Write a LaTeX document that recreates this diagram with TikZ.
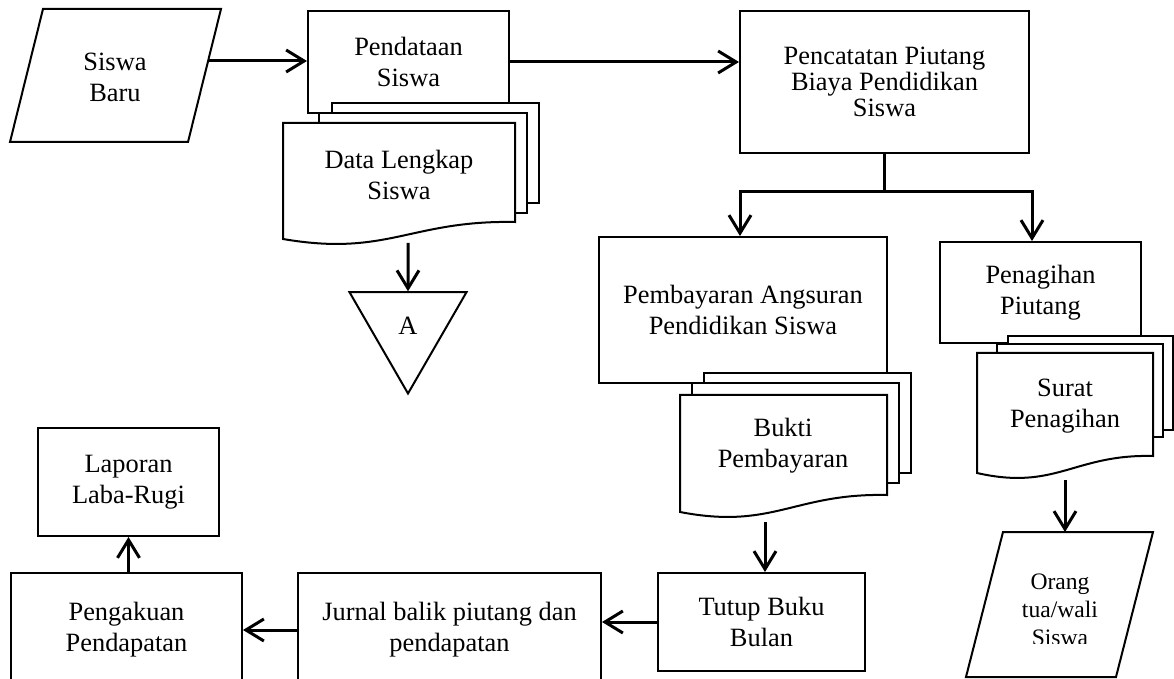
\documentclass[tikz,border=0pt]{standalone}
\usepackage{fontspec}
\setmainfont{Liberation Serif}
\usetikzlibrary{arrows.meta,shapes.geometric}

\tikzset{
	box/.style={draw,line width=1pt,fill=white,align=center,inner sep=0pt,font=\fontsize{13.2}{15.5}\selectfont},
	txt/.style={align=center,inner sep=0pt,font=\fontsize{13.2}{15.5}\selectfont},
	doc/.style={draw,line width=1pt,fill=white},
	arr/.style={line width=1.5pt,-{Straight Barb[length=9pt,width=11pt]}},
	lin/.style={line width=1.5pt}
}

% document with a wavy bottom: left, top, right, bottom at the right side
\newcommand{\wavedoc}[4]{%
	\draw[doc] (#1,#2) -- (#3,#2) -- (#3,#4)
	.. controls ({#1+0.55*(#3-#1)},{#4-2}) and ({#1+0.45*(#3-#1)},{#4+35}) .. (#1,{#4+17}) -- cycle;}

\begin{document}
\begin{tikzpicture}[x=0.5pt,y=-0.5pt]
	\useasboundingbox (0,0) rectangle (1174,679);
	\clip (0,0) rectangle (1174,679);
	% input
	\draw[line width=1pt] (43,9) -- (221,9) -- (188,142) -- (10,142) -- cycle;
	\node[txt] (baru) at (115,77) {Siswa\\Baru};
	\coordinate (baruR) at (209,61);
	% pendataan
	\node[box,minimum width=100.5pt,minimum height=51pt] (pendataan) at (408.5,62) {Pendataan\\Siswa};
	\draw[doc] (332,103) rectangle (539,203);
	\draw[doc] (319,113) rectangle (527,213);
	\wavedoc{283}{123}{515}{222}
	\node[txt] (lengkap) at (399,175) {Data Lengkap\\Siswa};
	\coordinate (lengkapB) at (408,243);
	\node[draw,line width=1pt,regular polygon,regular polygon sides=3,shape border rotate=180,
	minimum size=67.5pt,inner sep=0pt,font=\fontsize{13.2}{15.5}\selectfont] (konektor) at (408,326) {A};
	% pencatatan
	\node[box,minimum width=144.5pt,minimum height=71pt,font=\fontsize{13.2}{13}\selectfont] (pencatatan) at (884.5,82) {Pencatatan Piutang\\Biaya Pendidikan\\Siswa};
	% pembayaran
	\node[box,minimum width=144pt,minimum height=73pt] (pembayaran) at (743,310) {Pembayaran Angsuran\\Pendidikan Siswa};
	\draw[doc] (704,373) rectangle (911,473);
	\draw[doc] (692,383) rectangle (899,483);
	\wavedoc{680}{395}{887}{495}
	\node[txt] (bukti) at (783,446) {Bukti\\Pembayaran};
	\coordinate (buktiB) at (765,522);
	% penagihan
	\node[box,minimum width=100.5pt,minimum height=50.5pt] (penagihan) at (1040.5,292.5) {Penagihan\\Piutang};
	\draw[doc] (1008,336) rectangle (1173,430);
	\draw[doc] (997,344) rectangle (1163,437);
	\wavedoc{977}{353}{1153}{456}
	\node[txt] (surat) at (1065,406) {Surat\\Penagihan};
	\coordinate (suratB) at (1065,480);
	% orang tua
	\draw[line width=1pt] (1003,532) -- (1153,532) -- (1116,677) -- (966,677) -- cycle;
	\coordinate (ortuT) at (1065,532);
	\begin{scope}
		\clip (966,532) rectangle (1153,643);
		\node[txt,font=\fontsize{11.8}{14}\selectfont] (ortu) at (1060,610) {Orang\\tua/wali\\Siswa};
	\end{scope}
	% bottom row
	\node[box,minimum width=103.5pt,minimum height=49pt] (tutup) at (761.5,622) {Tutup Buku\\Bulan};
	\node[box,minimum width=151.5pt,minimum height=57pt] (jurnal) at (449.5,630) {Jurnal balik piutang dan\\pendapatan};
	\node[box,minimum width=115.5pt,minimum height=57pt] (pengakuan) at (126.5,630) {Pengakuan\\Pendapatan};
	\node[box,minimum width=90.5pt,minimum height=54pt] (laporan) at (128.5,482) {Laporan\\Laba-Rugi};
	% connectors
	\draw[arr] (baruR) -- (baruR -| pendataan.west);
	\draw[arr] (pendataan.east) -- (pendataan.east -| pencatatan.west);
	\draw[arr] (lengkapB) -- (konektor.north);
	\draw[lin] (pencatatan.south) -- ++(0,38) coordinate (cabang);
	\draw[arr] (cabang) -| ([xshift=-1.5pt]pembayaran.north);
	\draw[arr] (cabang) -| ([xshift=-4.25pt]penagihan.north);
	\draw[arr] (buktiB) -- (buktiB |- tutup.north);
	\draw[arr] (suratB) -- (ortuT);
	\draw[arr] (tutup.west) -- (tutup.west -| jurnal.east);
	\draw[arr] (jurnal.west) -- (pengakuan.east);
	\draw[arr] (pengakuan.north -| laporan.south) -- (laporan.south);
\end{tikzpicture}
\end{document}
